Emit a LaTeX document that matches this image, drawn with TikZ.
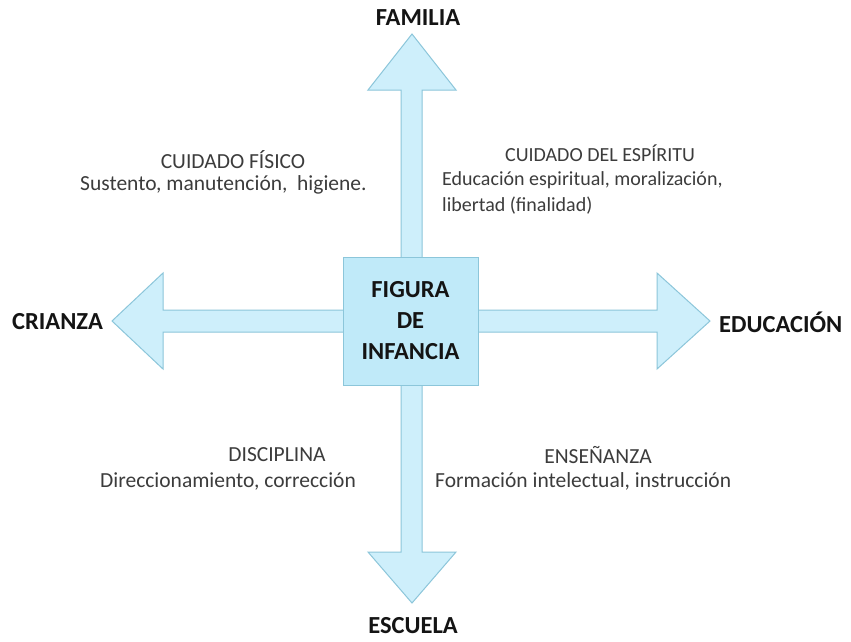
\documentclass[tikz,border=0pt]{standalone}
\usepackage{fontspec}
\setmainfont{Carlito}
\definecolor{arrowfill}{RGB}{206,239,251}
\definecolor{arrowline}{RGB}{140,198,218}
\definecolor{boxfill}{RGB}{192,234,249}
\definecolor{txt}{RGB}{60,60,60}
\definecolor{lbl}{RGB}{20,20,20}
\begin{document}
\begin{tikzpicture}[x=1pt,y=-1pt,
  body/.style={text=txt, font=\fontsize{20}{24}\selectfont, inner sep=0pt},
  bodyL/.style={text=txt, font=\fontsize{21.5}{26}\selectfont, inner sep=0pt},
  axislabel/.style={text=lbl, font=\bfseries\fontsize{24.5}{30}\selectfont, inner sep=0pt},
  centerbox/.style={draw=arrowline, fill=boxfill, line width=1pt, minimum width=135pt, minimum height=128pt, inner sep=0pt, align=center, text=lbl, font=\bfseries\fontsize{24.5}{31}\selectfont},
  crossarrows/.style={draw=arrowline, fill=arrowfill, line width=1pt, line join=miter}
]
\useasboundingbox (0,0) rectangle (851,641);
\fill[white] (0,0) rectangle (851,641);
% four arrows as one cross-shaped outline
\draw[crossarrows] (412,34) -- (456,90) -- (422,90) -- (422,310) -- (657,310) -- (657,273) -- (710,321)
  -- (657,369) -- (657,332) -- (422,332) -- (422,552) -- (456,552) -- (412,603) -- (368,552)
  -- (401,552) -- (401,332) -- (163,332) -- (163,369) -- (112,321) -- (163,273) -- (163,310)
  -- (401,310) -- (401,90) -- (368,90) -- cycle;
\node[centerbox] (center) at (410.5,321) {FIGURA\\DE\\INFANCIA};
% axis labels
\node[axislabel] (familia) at (418,18) {FAMILIA};
\node[axislabel] (escuela) at (413,626) {ESCUELA};
\node[axislabel, anchor=west] (crianza) at (12,322) {CRIANZA};
\node[axislabel, anchor=west] (educacion) at (719,322) {EDUCACIÓN};
% quadrant texts
\node[bodyL] (fisicoT) at (233,160) {CUIDADO FÍSICO};
\node[bodyL, anchor=west] (fisicoB) at (80,185) {Sustento, manutención,\ \ higiene.};
\node[body] (espirituT) at (600,153) {CUIDADO DEL ESPÍRITU};
\node[body, anchor=west] (espirituB) at (442,180) {Educación espiritual, moralización,};
\node[body, anchor=west] (espirituC) at (442,206) {libertad (finalidad)};
\node[bodyL] (disciplinaT) at (277,455) {DISCIPLINA};
\node[bodyL, anchor=east] (disciplinaB) at (356,481) {Direccionamiento, corrección};
\node[bodyL] (ensenanzaT) at (598,455) {ENSEÑANZA};
\node[bodyL, anchor=west] (ensenanzaB) at (435,481) {Formación intelectual, instrucción};
\end{tikzpicture}
\end{document}
